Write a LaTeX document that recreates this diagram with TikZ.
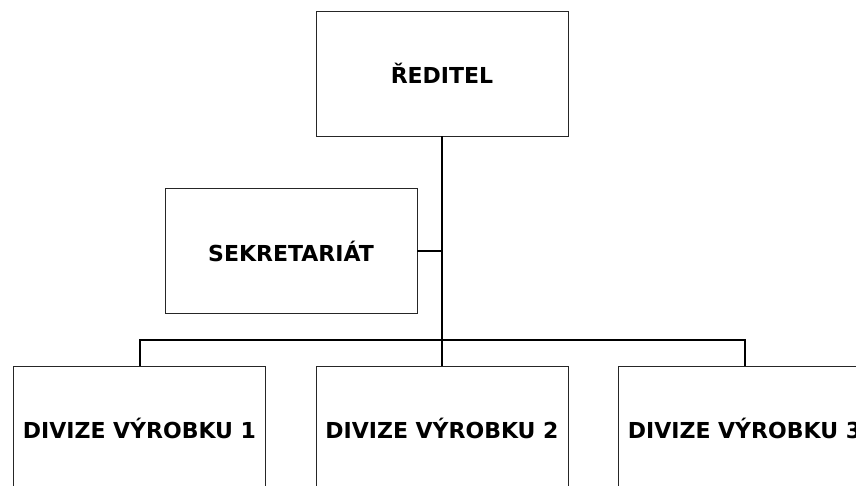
\documentclass[tikz,border=0pt]{standalone}
\usepackage{fontspec}
\setmainfont{DejaVu Sans}
\usetikzlibrary{positioning}
\tikzset{
unit/.style={draw=black!85, line width=0.8pt, fill=white, minimum width=252pt, minimum height=125pt, inner sep=0pt, font=\bfseries\fontsize{22}{26}\selectfont}, % box for each part of the firm
link/.style={line width=2pt}, % the lines joining the boxes
node distance=302.5pt, % distance between the division boxes
}

\begin{document}
\begin{tikzpicture}[x=1pt,y=-1pt]
\useasboundingbox (0,0) rectangle (856,486);
\clip (0,0) rectangle (856,486);
\node[unit] (reditel) at (442,73.5) {ŘEDITEL};
\node[unit] (sekretariat) at (291,251) {SEKRETARIÁT};
\node[unit] (divize2) at (442,428.5) {DIVIZE VÝROBKU 2};
\node[unit, left of=divize2] (divize1) {DIVIZE VÝROBKU 1};
\node[unit, right of=divize2] (divize3) {DIVIZE VÝROBKU 3};
\coordinate (bus) at (442,340);
\draw[link] (reditel.south) -- (divize2.north);
\draw[link] (sekretariat.east) -- (sekretariat.east -| reditel.south);
\draw[link] (divize1.north) |- (bus) -| (divize3.north);
\end{tikzpicture}
\end{document}
